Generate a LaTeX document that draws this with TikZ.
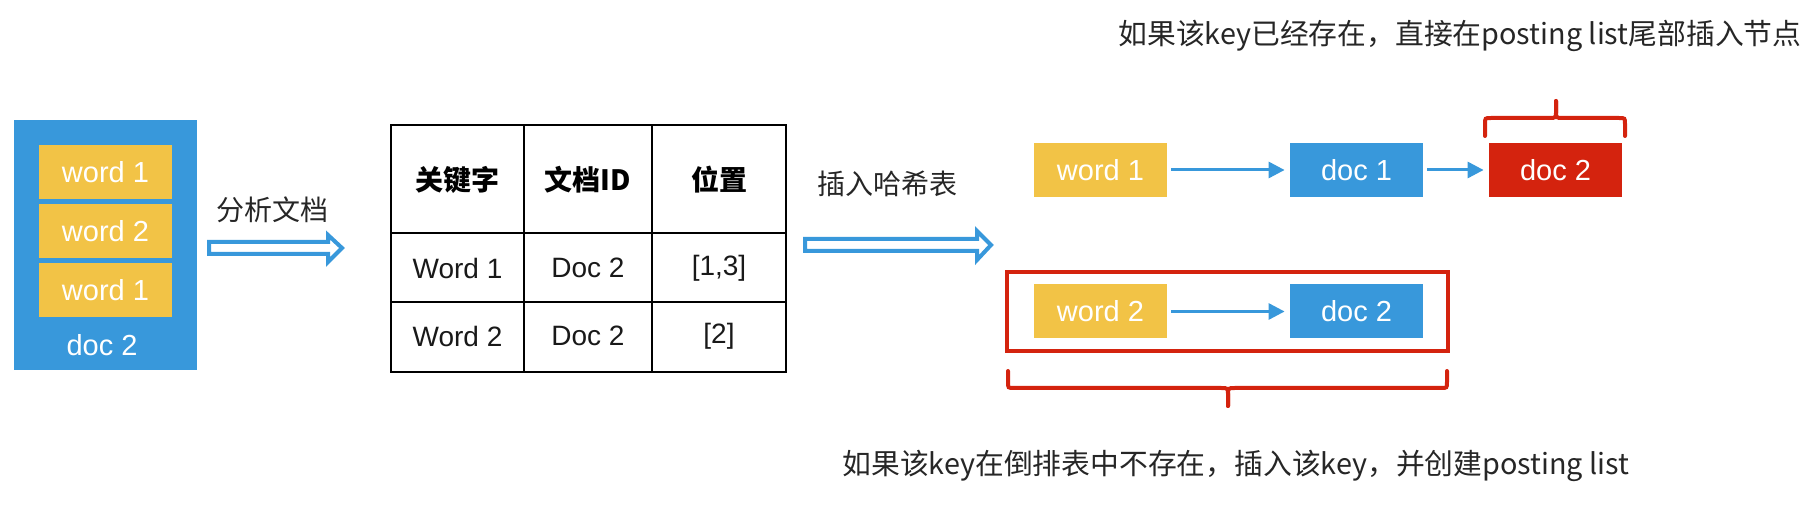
\documentclass[tikz,border=0pt]{standalone}
\usepackage{fontspec}
\setmainfont{Liberation Sans}
\newfontfamily\cjk{Noto Sans CJK SC}
\usetikzlibrary{arrows.meta}
\definecolor{bblue}{RGB}{56,152,219}
\definecolor{byellow}{RGB}{242,195,70}
\definecolor{bred}{RGB}{212,35,14}
\tikzset{
  box/.style={rectangle, inner sep=0pt, minimum width=66.5pt, minimum height=27pt,
    text=white, font=\fontsize{14.5pt}{16pt}\selectfont},
  wordbox/.style={box, fill=byellow},
  docbox/.style={box, fill=bblue},
  redbox/.style={box, fill=bred},
  lbl/.style={inner sep=0pt, font=\cjk\fontsize{14pt}{16pt}\selectfont, text=black!85},
  note/.style={inner sep=0pt, font=\cjk\fontsize{14.4pt}{16pt}\selectfont, text=black!85},
  cell/.style={inner sep=0pt, font=\fontsize{14pt}{16pt}\selectfont, text=black!90},
  hcell/.style={inner sep=0pt, font=\cjk\bfseries\fontsize{14pt}{16pt}\selectfont, text=black},
  hollow/.style={draw=bblue, line width=2pt, fill=white, line join=miter},
  link/.style={draw=bblue, line width=1.5pt, -{Triangle[length=8pt,width=8pt]},
    shorten <=2pt, shorten >=2.5pt},
  bracepath/.style={draw=bred, line width=2pt, line cap=round},
}
\begin{document}
\begin{tikzpicture}[x=0.5pt,y=-0.5pt]
\useasboundingbox (0,0) rectangle (1817,523);
% left document
\node[rectangle, fill=bblue, minimum width=91.5pt, minimum height=125pt, inner sep=0pt] (doc) at (105.5,245) {};
\node[wordbox] (w1) at (105.5,172.5) {word 1};
\node[wordbox] (w2) at (105.5,231.5) {word 2};
\node[wordbox] (w3) at (105.5,290.5) {word 1};
\node[box] (docl) at (102,345) {doc 2};
% arrow 1
\node[lbl] (l1) at (272,210) {分析文档};
\draw[hollow] (209,242) -- (328,242) -- (328,235) -- (342,248) -- (328,262) -- (328,254) -- (209,254) -- cycle;
% table
\draw[line width=1pt] (391,125) rectangle (786,372);
\draw[line width=1pt] (524,125) -- (524,372) (652,125) -- (652,372)
  (391,233) -- (786,233) (391,302) -- (786,302);
\node[hcell] (h1) at (457.5,180) {关键字};
\node[hcell] (h2) at (588,180) {文档ID};
\node[hcell] (h3) at (719,180) {位置};
\node[cell] (c11) at (457.5,268) {Word 1};
\node[cell] (c12) at (588,268) {Doc 2};
\node[cell] (c13) at (719,268) {[1,3]};
\node[cell] (c21) at (457.5,336) {Word 2};
\node[cell] (c22) at (588,336) {Doc 2};
\node[cell] (c23) at (719,336) {[2]};
% arrow 2
\node[lbl] (l2) at (887,184) {插入哈希表};
\draw[hollow] (805,239) -- (977,239) -- (977,231) -- (991,245) -- (977,260) -- (977,251) -- (805,251) -- cycle;
% hash table top row
\node[wordbox] (hw1) at (1100.5,170) {word 1};
\node[docbox] (hd1) at (1356.5,170) {doc 1};
\node[redbox] (hd2) at (1555.5,170) {doc 2};
\draw[link] (hw1) -- (hd1);
\draw[link] (hd1) -- (hd2);
% bottom row
\draw[draw=bred, line width=2pt] (1007,272) rectangle (1448,351);
\node[wordbox] (hw2) at (1100.5,311.5) {word 2};
\node[docbox] (hd3) at (1356.5,311.5) {doc 2};
\draw[link] (hw2) -- (hd3);
% top brace
\draw[bracepath] (1485,136) -- (1485,124) .. controls (1485,118) .. (1491,118) -- (1549,118) .. controls (1556,118) .. (1556,111) -- (1556,101);
\draw[bracepath] (1556,101) -- (1556,111) .. controls (1556,118) .. (1563,118) -- (1619,118) .. controls (1625,118) .. (1625,124) -- (1625,136);
% bottom brace
\draw[bracepath] (1008,371) -- (1008,382) .. controls (1008,388) .. (1014,388) -- (1221,388) .. controls (1228,388) .. (1228,395) -- (1228,406);
\draw[bracepath] (1228,406) -- (1228,395) .. controls (1228,388) .. (1235,388) -- (1441,388) .. controls (1447,388) .. (1447,382) -- (1447,371);
% notes
\node[note, anchor=west] (t1) at (1118,36) {如果该key已经存在，直接在posting list尾部插入节点};
\node[note, anchor=west] (t2) at (842,466) {如果该key在倒排表中不存在，插入该key，并创建posting list};
\end{tikzpicture}
\end{document}
